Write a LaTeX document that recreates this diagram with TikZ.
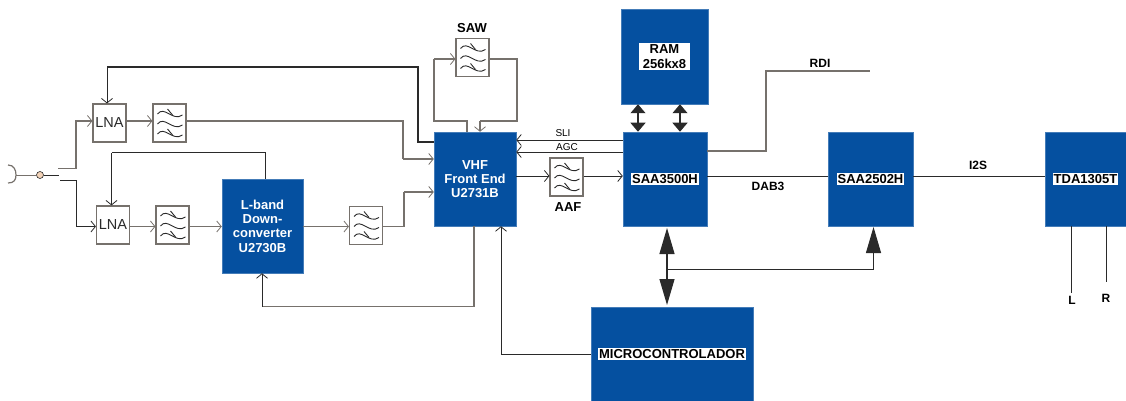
\documentclass[tikz,border=0pt]{standalone}
\usepackage{fontspec}
\setmainfont{Liberation Sans}
\usetikzlibrary{arrows.meta}
\definecolor{blockblue}{HTML}{0550A0}
\definecolor{greyline}{HTML}{76716C}
\definecolor{darkline}{HTML}{2A2A2A}
\definecolor{jackfill}{HTML}{F3D3B8}
\tikzset{
  block/.style={draw=blockblue!75!white,line width=0.5pt,fill=blockblue,minimum width=#1,minimum height=94pt,inner sep=0pt,text=white,align=center,font=\fontsize{13}{14.3}\selectfont\bfseries},
  block/.default=83pt,
  tag/.style={fill=white,text=black,inner xsep=1pt,inner ysep=1.5pt,align=center,font=\fontsize{13}{15.5}\selectfont\bfseries},
  lnabox/.style={draw=greyline,line width=1.1pt,fill=white,minimum width=33pt,minimum height=38pt,inner sep=0pt,text=darkline,font=\fontsize{14.5}{15}\selectfont},
  filterbox/.style={draw=greyline,line width=1.1pt,fill=white,minimum width=33pt,minimum height=38pt,inner sep=0pt,
    path picture={\foreach \dy in {-10,0,10}{
      \draw[darkline,line width=0.9pt,shift={(path picture bounding box.center)}] (-12,\dy+1) .. controls (-5,\dy-8) and (3,\dy+9) .. (13,\dy+2);}
      \draw[darkline,line width=0.9pt,shift={(path picture bounding box.center)}] (-2,-14) -- (3,-8) (-2,6) -- (3,12);}},
  sig/.style={greyline,line width=1.3pt},
  dark/.style={darkline,line width=1pt},
  barb/.style={-{Straight Barb[length=4.5pt,width=11pt,line width=0.8pt]}},
  bus/.style={{Triangle[length=#1,width=15pt]}-{Triangle[length=#1,width=15pt]},color=darkline,line width=1.2pt},
  lab/.style={text=black,inner sep=0pt,font=\fontsize{12}{14}\selectfont\bfseries},
  thinlab/.style={text=black,inner sep=0pt,font=\fontsize{10}{12}\selectfont}
}
\begin{document}
\begin{tikzpicture}[x=1pt,y=-1pt]
\useasboundingbox (0,0) rectangle (1126,401);
\node[block=81pt] (lband) at (262.5,226) {L-band\\Down-\\converter\\U2730B};
\node[block=82pt] (vhf) at (475,179) {VHF\\Front End\\U2731B};
\node[block=87pt,minimum height=95pt] (ram) at (664.5,56.5) {};
\node[tag,inner xsep=4pt] at (ram.center) {RAM\\256kx8};
\node[block=84pt] (saadab) at (665,179) {};
\node[tag] at (saadab.center) {SAA3500H};
\node[block=85pt] (saaaudio) at (870.5,179) {};
\node[tag] at (saaaudio.center) {SAA2502H};
\node[block=81pt] (tda) at (1085.5,179) {};
\node[tag] at (tda.center) {TDA1305T};
\node[block=162pt] (micro) at (672,354) {};
\node[tag] at (micro.center) {MICROCONTROLADOR};
\node[lnabox] (lnaa) at (109.5,123) {LNA};
\node[lnabox] (lnab) at (113,225) {LNA};
\node[filterbox] (filta) at (169.5,123) {};
\node[filterbox] (filtb) at (172.5,225) {};
\node[filterbox] (filtc) at (366,225.5) {};
\node[filterbox] (saw) at (472.5,57.5) {};
\node[filterbox] (aaf) at (566.5,177) {};
\node[lab,font=\fontsize{13}{15}\selectfont\bfseries] (sawlab) at (472,28) {SAW};
\node[lab,font=\fontsize{13}{15}\selectfont\bfseries] (aaflab) at (568,207) {AAF};
\node[thinlab] (slilab) at (563,133) {SLI};
\node[thinlab] (agclab) at (567,147) {AGC};
\node[lab] (rdilab) at (820,63) {RDI};
\node[lab] (dablab) at (768,186) {DAB3};
\node[lab] (i2slab) at (978,165) {I2S};
\node[lab] (llab) at (1072,300) {L};
\node[lab] (rlab) at (1106,298) {R};
\coordinate (rdiend) at (870,71);
\coordinate (lend) at (1071,293);
\coordinate (rend) at (1106,282);
\coordinate (swa) at (58,168.5);
\coordinate (swb) at (60,180.5);
\coordinate (swin) at (59,175);
\node[circle,draw=darkline,line width=0.6pt,fill=jackfill,minimum size=7pt,inner sep=0pt] (jack) at (40,175) {};
\coordinate (plug) at (16,175);
\draw[greyline,line width=1.2pt] (8,165) .. controls (14,165) and (16,170) .. (plug) .. controls (16,180) and (14,183) .. (8,183);
\draw[greyline,line width=1pt] (plug) -- (jack);
\draw[darkline,line width=0.8pt] (jack) -- (swin);
\draw[sig,barb] (swa) -- (76,168.5) -- (76,121) -- (lnaa.west |- 76,121);
\draw[dark,barb] (swb) -- (76,180.5) -- (76,226.5) -- (lnab.west |- 76,226.5);
\draw[sig,barb] (lnaa.east |- 0,121) -- (filta.west |- 0,121);
\draw[sig,barb] (lnab.east |- 0,226.5) -- (filtb.west |- 0,226.5);
\draw[sig,barb] (filtb.east |- 0,226.5) -- (lband.west |- 0,226.5);
\draw[sig,barb] (lband.east |- 0,226.5) -- (filtc.west |- 0,226.5);
\draw[sig] (filta.east |- 0,121) -- (403,121) -- (403,159);
\draw[sig,barb] (403,159) -- (vhf.west |- 0,159);
\draw[sig] (filtc.east |- 0,226.5) -- (404,226.5) -- (404,192);
\draw[sig,barb] (404,192) -- (vhf.west |- 0,192);
\draw[darkline,line width=1.2pt] (vhf.west |- 0,142) -- (418,142) -- (418,67) -- (107,67);
\draw[dark,barb] (107,67) -- (107,67 |- lnaa.north);
\draw[darkline,line width=1.2pt] (lband.north -| 265.5,0) -- (265.5,152.5) -- (111.5,152.5);
\draw[dark,barb] (111.5,152.5) -- (111.5,152.5 |- lnab.north);
\draw[sig] (vhf.north -| 467,0) -- (467,121) -- (434,121) -- (434,59);
\draw[sig,barb] (434,59) -- (saw.west |- 0,59);
\draw[sig] (saw.east |- 0,59) -- (517,59) -- (517,121) -- (480,121);
\draw[sig,barb] (480,121) -- (480,121 |- vhf.north);
\draw[dark,barb] (saadab.west |- 0,140) -- (vhf.east |- 0,140);
\draw[dark,barb] (saadab.west |- 0,152) -- (vhf.east |- 0,152);
\draw[dark,barb] (vhf.east |- 0,176) -- (aaf.west |- 0,176);
\draw[dark,barb] (aaf.east |- 0,176) -- (saadab.west |- 0,176);
\draw[bus=9pt] (ram.south -| 638,0) -- (saadab.north -| 638,0);
\draw[bus=9pt] (ram.south -| 680,0) -- (saadab.north -| 680,0);
\draw[sig] (saadab.east |- 0,151) -- (766,151) -- (766,71) -- (rdiend);
\draw[dark] (saadab.east |- 0,176) -- (saaaudio.west |- 0,176);
\draw[dark] (saaaudio.east |- 0,176) -- (tda.west |- 0,176);
\draw[dark] (tda.south -| lend) -- (lend);
\draw[dark] (tda.south -| rend) -- (rend);
\draw[sig] (vhf.south -| 474,0) -- (474,306.5) -- (262,306.5);
\draw[dark,barb] (262,306.5) -- (262,306.5 |- lband.south);
\draw[dark] (micro.west |- 0,354.5) -- (501,354.5);
\draw[dark,barb] (501,354.5) -- (501,354.5 |- vhf.south);
\draw[bus=26pt] (667,228) -- (667,305);
\draw[dark] (667,269) -- (873.5,269);
\draw[dark,-{Triangle[length=26pt,width=15pt]}] (873.5,269) -- (873.5,227);
\end{tikzpicture}
\end{document}
